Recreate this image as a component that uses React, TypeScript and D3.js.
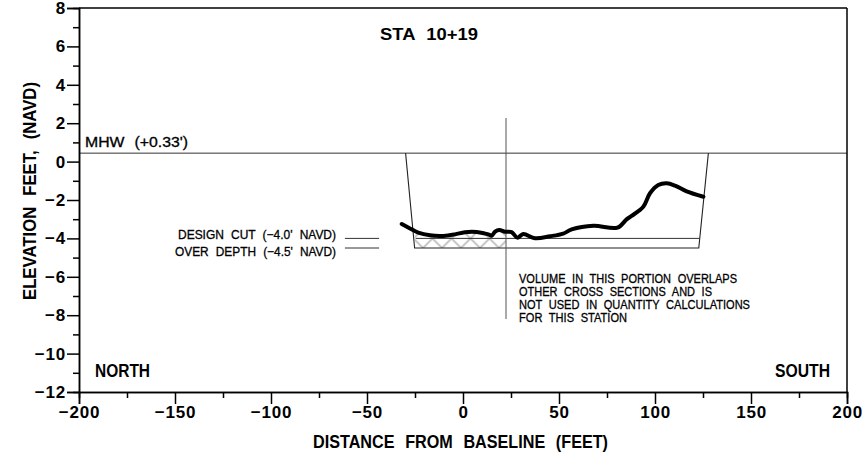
import React, { useEffect, useRef } from 'react';
import * as d3 from 'd3';

const xMajorTicks = [-200, -150, -100, -50, 0, 50, 100, 150, 200];
const xMinorTicks = [-175, -125, -75, -25, 25, 75, 125, 175];
const yMajorTicks = [-12, -10, -8, -6, -4, -2, 0, 2, 4, 6, 8];
const yMinorTicks = [-11, -9, -7, -5, -3, -1, 1, 3, 5, 7];

const profileX = [-31.9, -27.6, -23.3, -17.2, -10.2, -4.2, 1.0, 7.1, 11.5, 13.5, 14.9, 16.7, 18.9, 21.9, 25.3, 28.3, 31.4, 37.5, 45.3, 52.2, 56.6, 67.9, 80.4, 85.2, 87.8, 93.9, 97.4, 101.7, 106.1, 110.4, 116.5, 125.2];
const profileY = [-3.25, -3.48, -3.7, -3.84, -3.87, -3.79, -3.68, -3.67, -3.75, -3.8, -3.86, -3.65, -3.56, -3.65, -3.67, -3.96, -3.77, -3.99, -3.89, -3.75, -3.53, -3.34, -3.44, -3.01, -2.83, -2.35, -1.65, -1.22, -1.13, -1.25, -1.55, -1.83];

const mhwLevel = 0.44;
const designCut = -4.0;
const overDepth = -4.5;
const cutTopX = [-29.9, 127.8];
const cutBottomX = [-25.2, 122.8];
const cutLineX = [-24.6, 123.2];
const hatchEndX = 22.4;
const stationLineX = 22.4;
const stationLineY = [2.27, -8.2];
const legendLineX = [-61.5, -43.7];

const noteLines = [
  'VOLUME IN THIS PORTION OVERLAPS',
  'OTHER CROSS SECTIONS AND IS',
  'NOT USED IN QUANTITY CALCULATIONS',
  'FOR THIS STATION',
];
const noteWidths = [218, 193, 231, 108];

const width = 867;
const height = 465;
const margin = { top: 8, right: 20, bottom: 73, left: 79 };
const font = '"Liberation Sans", Arial, sans-serif';

const x = d3.scaleLinear().domain([-200, 200]).range([margin.left, width - margin.right]);
const y = d3.scaleLinear().domain([-12, 8]).range([height - margin.bottom, margin.top]);

const profile = profileX.map((d, i) => [d, profileY[i]] as [number, number]);

export default function App() {
  const svgRef = useRef<SVGSVGElement>(null);

  useEffect(() => {
    const svg = d3.select(svgRef.current);
    svg.select('.axes').remove();
    const g = svg.append('g').attr('class', 'axes');

    const styleAxis = (sel: any) => {
      sel.select('.domain').attr('stroke', '#000').attr('stroke-width', 1.5);
      sel.selectAll('.tick line').attr('stroke', '#000').attr('stroke-width', 1.5);
      sel.selectAll('.tick text')
        .attr('font-family', font)
        .attr('font-weight', 700)
        .attr('font-size', 17)
        .attr('letter-spacing', 0.8)
        .attr('fill', '#000');
    };

    // minor ticks first, the labelled ones go on top
    g.append('g').attr('transform', `translate(0,${y(-12)})`)
      .call(d3.axisBottom(x).tickValues(xMinorTicks).tickSize(6).tickFormat(() => ''))
      .call(styleAxis);
    g.append('g').attr('transform', `translate(${x(-200)},0)`)
      .call(d3.axisLeft(y).tickValues(yMinorTicks).tickSize(6).tickFormat(() => ''))
      .call(styleAxis);

    const fmt = (d: any) => String(d).replace('-', '\u2212');
    g.append('g').attr('transform', `translate(0,${y(-12)})`)
      .call(d3.axisBottom(x).tickValues(xMajorTicks).tickSize(12).tickPadding(2).tickFormat(fmt))
      .call(styleAxis);
    g.append('g').attr('transform', `translate(${x(-200)},0)`)
      .call(d3.axisLeft(y).tickValues(yMajorTicks).tickSize(12).tickPadding(1).tickFormat(fmt))
      .call(styleAxis);

    // frame
    g.append('line').attr('x1', x(-200)).attr('x2', x(200)).attr('y1', y(8)).attr('y2', y(8)).attr('stroke', '#000').attr('stroke-width', 1.5);
    g.append('line').attr('x1', x(200)).attr('x2', x(200)).attr('y1', y(8)).attr('y2', y(-12)).attr('stroke', '#000').attr('stroke-width', 1.5);
  }, []);

  const hatchArea = d3.area<[number, number]>()
    .x((d) => x(d[0]))
    .y0(y(overDepth))
    .y1((d) => y(d[1]));
  const hatchProfile: [number, number][] = [
    [cutBottomX[0], -3.72],
    ...profile.filter((d) => d[0] > cutBottomX[0] && d[0] < hatchEndX),
    [hatchEndX, -3.65],
  ];

  const line = d3.line<[number, number]>().x((d) => x(d[0])).y((d) => y(d[1])).curve(d3.curveCatmullRom);

  const cutShape = d3.line<[number, number]>().x((d) => x(d[0])).y((d) => y(d[1]))([
    [cutTopX[0], mhwLevel],
    [cutBottomX[0], overDepth],
    [cutBottomX[1], overDepth],
    [cutTopX[1], mhwLevel],
  ]);

  const thin = { fontFamily: font, fill: '#000', stroke: '#000', strokeWidth: 0.3, lengthAdjust: 'spacingAndGlyphs' };
  const bold = { fontFamily: font, fill: '#000', fontWeight: 700, lengthAdjust: 'spacingAndGlyphs' };

  return (
    <svg
      ref={svgRef}
      width={width}
      height={height}
      style={{ position: 'absolute', left: 0, top: 0, background: '#fff' }}
    >
      <defs>
        <pattern id="hatch" patternUnits="userSpaceOnUse" width={19} height={19} x={413.5} y={238.5}>
          <path d="M0,0L19,19M19,0L0,19" stroke="#b0b0b0" strokeWidth={1.5} fill="none" />
        </pattern>
      </defs>

      <path d={hatchArea(hatchProfile) ?? ''} fill="url(#hatch)" />

      <line x1={x(-200)} x2={x(200)} y1={y(mhwLevel)} y2={y(mhwLevel)} stroke="#333" strokeWidth={1} />
      <path d={cutShape ?? ''} fill="none" stroke="#222" strokeWidth={1.1} />
      <line x1={x(cutLineX[0])} x2={x(cutLineX[1])} y1={y(designCut)} y2={y(designCut)} stroke="#333" strokeWidth={1} />
      <line x1={x(stationLineX)} x2={x(stationLineX)} y1={y(stationLineY[0])} y2={y(stationLineY[1])} stroke="#555" strokeWidth={1} />
      <line x1={x(legendLineX[0])} x2={x(legendLineX[1])} y1={y(designCut)} y2={y(designCut)} stroke="#333" strokeWidth={1} />
      <line x1={x(legendLineX[0])} x2={x(legendLineX[1])} y1={y(overDepth)} y2={y(overDepth)} stroke="#333" strokeWidth={1} />

      <path d={line(profile) ?? ''} fill="none" stroke="#000" strokeWidth={4} strokeLinejoin="round" strokeLinecap="round" />

      <text {...bold} x={380} y={40} fontSize={17} wordSpacing={6} textLength={98}>STA 10+19</text>
      <text {...thin} x={85} y={147} fontSize={14} wordSpacing={5} textLength={103}>MHW (+0.33')</text>
      <text {...thin} x={178} y={238.5} fontSize={12.5} wordSpacing={4} textLength={158}>DESIGN CUT (−4.0' NAVD)</text>
      <text {...thin} x={175} y={256} fontSize={12.5} wordSpacing={4} textLength={161}>OVER DEPTH (−4.5' NAVD)</text>
      {noteLines.map((d, i) => (
        <text key={d} {...thin} x={519} y={283 + i * 13} fontSize={12.5} wordSpacing={4} textLength={noteWidths[i]}>{d}</text>
      ))}
      <text {...bold} x={95} y={377} fontSize={17.5} textLength={55}>NORTH</text>
      <text {...bold} x={775} y={377} fontSize={17.5} textLength={55}>SOUTH</text>
      <text {...bold} x={313} y={448} fontSize={18.5} wordSpacing={7} textLength={295}>DISTANCE FROM BASELINE (FEET)</text>
      <text {...bold} transform="translate(35.5,300) rotate(-90)" fontSize={18.5} wordSpacing={7} textLength={218}>ELEVATION FEET, (NAVD)</text>
    </svg>
  );
}
